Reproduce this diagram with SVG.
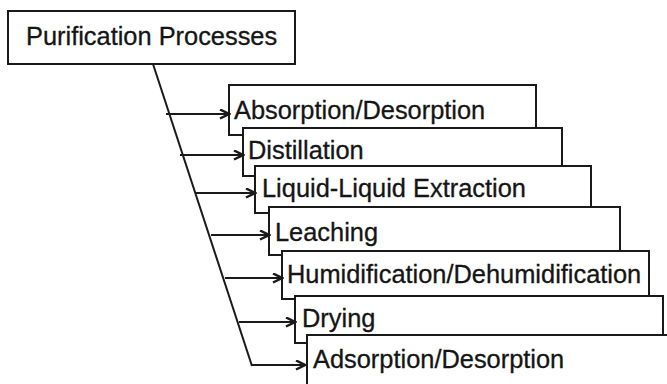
<svg xmlns="http://www.w3.org/2000/svg" width="667" height="384" viewBox="0 0 667 384">
<defs>
<style>
.box{fill:#fff;stroke:#1a1a1a;stroke-width:2}
.lbl{font-family:"Liberation Sans",Arial,sans-serif;font-size:25.4px;fill:#151515;stroke:#151515;stroke-width:0.3}
.con{stroke:#1a1a1a;stroke-width:2;fill:none}
</style>
<marker id="ah" markerUnits="userSpaceOnUse" markerWidth="12" markerHeight="12" refX="10" refY="5.5" orient="auto">
<path d="M1,1 L10,5.5 L1,10" fill="none" stroke="#1a1a1a" stroke-width="2.5"/>
</marker>
</defs>
<rect width="667" height="384" fill="#fff"/>
<g id="node-root">
<rect class="box" x="8" y="11" width="287" height="53"/>
<text class="lbl" x="26" y="45">Purification Processes</text>
</g>
<g id="node-absorption">
<rect class="box" x="229" y="85" width="307" height="50"/>
<text class="lbl" x="234" y="119">Absorption/Desorption</text>
</g>
<g id="node-distillation">
<rect class="box" x="243" y="128" width="319" height="48"/>
<text class="lbl" x="248" y="159">Distillation</text>
</g>
<g id="node-lle">
<rect class="box" x="255" y="166" width="336" height="47"/>
<text class="lbl" x="262" y="197">Liquid-Liquid Extraction</text>
</g>
<g id="node-leaching">
<rect class="box" x="269" y="207" width="351" height="48"/>
<text class="lbl" x="275" y="241">Leaching</text>
</g>
<g id="node-humidification">
<rect class="box" x="282" y="251" width="367" height="48"/>
<text class="lbl" x="287" y="283">Humidification/Dehumidification</text>
</g>
<g id="node-drying">
<rect class="box" x="295" y="296" width="368" height="47"/>
<text class="lbl" x="302" y="327">Drying</text>
</g>
<g id="node-adsorption">
<rect class="box" x="307" y="335" width="400" height="60"/>
<text class="lbl" x="313" y="368">Adsorption/Desorption</text>
</g>
<g id="connectors">
<line class="con" x1="153" y1="64" x2="252" y2="366"/>
<line class="con" x1="166" y1="114" x2="229" y2="114" marker-end="url(#ah)"/>
<line class="con" x1="180" y1="155" x2="243" y2="155" marker-end="url(#ah)"/>
<line class="con" x1="195" y1="193" x2="255" y2="193" marker-end="url(#ah)"/>
<line class="con" x1="211" y1="235" x2="269" y2="235" marker-end="url(#ah)"/>
<line class="con" x1="225" y1="278" x2="282" y2="278" marker-end="url(#ah)"/>
<line class="con" x1="239" y1="322" x2="295" y2="322" marker-end="url(#ah)"/>
<line class="con" x1="252" y1="365" x2="305" y2="365" marker-end="url(#ah)"/>
</g>
</svg>
